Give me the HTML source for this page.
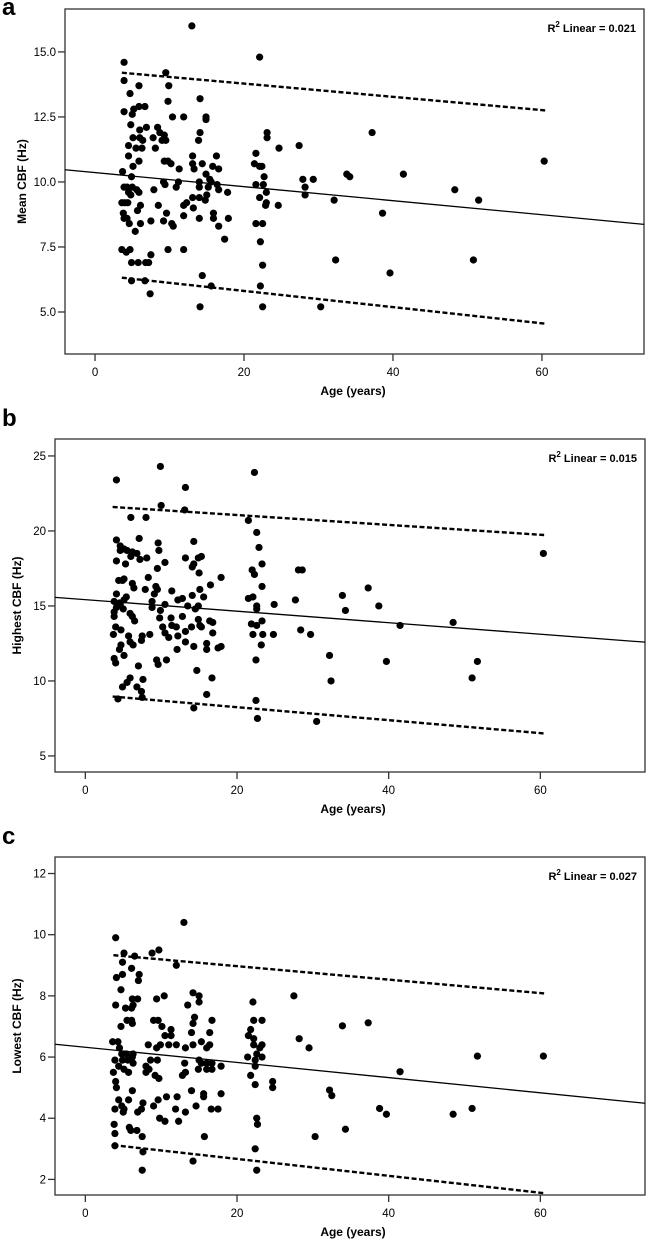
<!DOCTYPE html>
<html><head><meta charset="utf-8"><style>
html,body{margin:0;padding:0;background:#fff;}
svg{display:block;font-family:"Liberation Sans",Arial,sans-serif;}
</style></head><body>
<svg id="fig" width="647" height="1240" viewBox="0 0 647 1240"></svg>
<script>
// ---- Panel a: Mean CBF ----
const ageA=[13.0,3.9,22.1,3.9,9.5,4.7,5.9,9.9,3.9,5.0,5.2,5.9,6.7,9.8,10.4,11.9,14.1,14.9,14.9,4.8,5.1,6.0,6.9,6.0,6.4,4.5,5.5,6.3,8.4,8.7,7.8,9.3,9.0,9.5,8.1,14.1,13.9,4.5,5.9,5.1,4.9,3.7,9.3,9.8,10.2,11.3,13.1,13.1,13.3,14.4,15.8,16.3,16.6,21.6,21.4,22.1,22.4,22.7,23.1,23.1,24.7,27.4,27.9,29.3,28.2,28.2,37.2,60.3,33.8,34.2,41.4,48.3,51.5,32.1,38.6,32.3,50.8,39.6,30.3,3.9,4.3,5.0,5.6,5.9,4.5,4.8,3.6,4.0,4.4,6.1,5.7,3.8,3.9,4.3,4.6,6.1,5.4,7.5,7.9,8.5,9.2,9.4,9.2,9.6,10.3,10.5,10.9,11.2,11.9,11.9,12.3,13.1,13.2,14.0,14.0,14.0,14.0,14.8,14.9,15.0,15.2,15.4,15.6,15.9,15.9,16.4,16.6,16.6,17.8,17.9,17.4,21.6,22.1,22.6,23.0,23.0,22.9,24.6,21.6,22.5,22.2,22.5,22.2,22.5,14.1,14.4,15.6,3.6,4.2,4.7,4.9,4.9,5.8,6.8,7.2,7.5,6.7,7.4,9.8,11.9];
const cbfA=[16.0,14.6,14.8,13.9,14.2,13.4,13.7,13.7,12.7,12.6,12.8,12.9,12.9,13.1,12.5,12.5,13.2,12.5,12.4,12.2,11.7,12.0,12.1,11.7,11.6,11.4,11.3,11.3,12.1,11.9,11.7,11.8,11.6,11.6,11.3,11.9,11.6,11.0,10.8,10.6,10.2,10.4,10.8,10.8,10.7,10.5,11.0,10.7,10.5,10.7,10.6,11.0,10.5,11.1,10.7,10.6,10.6,10.2,11.9,11.7,11.3,11.4,10.1,10.1,9.8,9.5,11.9,10.8,10.3,10.2,10.3,9.7,9.3,9.3,8.8,7.0,7.0,6.5,5.2,9.8,9.8,9.8,9.7,9.6,9.6,9.5,9.2,9.2,9.2,9.1,8.9,8.8,8.6,8.6,8.4,8.4,8.1,8.5,9.7,9.1,10.0,9.9,8.5,8.8,8.4,8.3,9.8,10.0,9.1,8.7,9.2,9.4,9.0,9.4,10.0,9.8,8.6,9.3,10.3,9.5,9.8,10.1,10.0,8.8,8.6,9.9,9.7,8.3,9.6,8.6,7.8,9.9,9.4,9.9,9.6,9.2,9.1,9.1,8.4,8.4,7.7,6.8,6.0,5.2,5.2,6.4,6.0,7.4,7.3,7.4,6.9,6.2,6.9,6.9,6.9,7.2,6.2,5.7,7.4,7.4];
const fitA=[10.36,-0.027];      // intercept, slope
const upperA=[[3.6,14.2],[60.5,12.75]];
const lowerA=[[3.6,6.32],[60.5,4.55]];
const yTicksA=[5.0,7.5,10.0,12.5,15.0];

// ---- Panel b: Highest CBF ----
const ageB=[4.1,9.9,13.2,22.3,10.0,13.1,6.0,8.0,21.5,4.1,7.1,9.6,14.3,22.6,22.9,4.6,5.1,5.5,6.2,4.6,6.0,6.8,7.2,8.1,9.7,4.1,5.3,13.2,14.9,15.3,14.3,14.1,15.0,10.5,9.5,22.0,22.3,23.3,28.1,28.6,8.3,17.9,4.4,4.9,5.1,6.2,6.4,7.9,9.1,9.5,9.3,11.4,15.1,16.5,23.3,4.1,5.4,5.1,3.8,4.6,4.1,4.5,5.0,10.5,8.8,8.8,9.9,12.2,13.5,12.8,14.5,14.9,15.6,14.1,21.5,22.1,22.6,22.6,24.9,27.7,3.8,3.8,5.9,6.2,6.5,9.8,11.3,12.8,11.4,12.0,10.2,14.9,15.1,16.4,16.8,4.0,3.7,4.7,5.7,8.5,7.5,10.5,11.0,12.2,13.2,14.0,13.2,15.3,16.8,16.0,21.9,22.6,23.3,22.1,23.4,24.8,28.4,29.7,4.7,5.9,6.3,7.4,4.5,5.1,12.1,14.3,16.0,17.5,17.9,23.2,3.8,4.0,9.4,9.6,10.7,22.5,7.0,14.7,5.9,5.5,4.9,6.8,7.6,7.4,7.5,16.7,16.0,4.3,14.3,22.5,22.7,30.5,60.4,37.3,33.9,34.3,38.7,41.5,48.5,32.2,32.4,39.7,51.7,51.0];
const cbfB=[23.4,24.3,22.9,23.9,21.7,21.4,20.9,20.9,20.7,19.4,19.5,19.2,19.3,19.9,18.9,19.0,18.8,18.7,18.6,18.7,18.3,18.5,18.1,18.2,18.7,18.0,17.8,18.2,18.2,18.3,17.8,17.6,17.2,17.9,17.5,17.4,17.1,17.8,17.4,17.4,16.9,16.9,16.7,16.7,16.8,16.5,16.2,16.1,15.8,16.1,16.3,16.0,16.1,16.4,16.3,15.8,15.6,15.4,15.3,15.1,14.9,15.2,14.8,15.1,15.3,14.9,14.7,15.4,15.0,15.5,14.8,15.0,15.6,15.7,15.5,15.6,15.0,14.8,15.1,15.4,14.6,14.3,14.5,14.3,14.0,14.2,14.2,14.3,13.7,13.6,13.6,14.1,13.7,14.0,13.9,13.6,13.1,13.4,13.0,13.1,13.0,13.2,12.9,13.0,13.3,13.6,12.6,13.6,13.2,12.5,13.8,13.7,14.0,13.1,13.1,13.1,13.4,13.1,12.4,12.6,12.4,12.7,12.1,11.7,12.1,12.3,12.1,12.2,12.3,12.4,11.5,11.2,11.4,11.1,11.4,11.4,11.0,10.7,10.2,9.9,9.6,9.6,10.1,9.3,8.9,10.2,9.1,8.8,8.2,8.7,7.5,7.3,18.5,16.2,15.7,14.7,15.0,13.7,13.9,11.7,10.0,11.3,11.3,10.2];
const fitB=[15.42,-0.0384];
const upperB=[[3.6,21.6],[60.5,19.73]];
const lowerB=[[3.6,8.96],[60.5,6.5]];
const yTicksB=[5,10,15,20,25];

// ---- Panel c: Lowest CBF ----
const ageC=[13.0,4.0,9.7,8.8,5.1,6.5,4.1,4.9,6.1,4.9,7.1,7.0,12.0,4.7,4.0,9.4,10.4,6.2,6.9,5.3,6.1,6.3,14.2,15.0,15.0,13.5,22.1,27.5,4.7,5.5,6.1,6.2,9.0,9.6,10.1,11.3,14.4,14.2,16.7,14.0,16.4,10.5,11.3,22.2,23.3,21.8,21.5,22.2,28.2,29.5,3.6,4.3,4.5,8.3,9.4,9.9,11.0,12.0,13.2,14.2,15.3,16.0,16.4,22.2,23.0,23.3,22.6,23.3,21.4,22.4,4.8,5.4,6.3,3.9,4.9,5.6,4.4,5.1,5.7,6.3,6.2,3.7,8.0,8.4,8.0,8.6,9.5,9.2,9.7,13.1,13.2,12.8,15.0,15.3,14.9,16.0,16.7,16.0,16.7,17.9,21.8,22.4,22.4,24.7,24.7,4.0,4.1,4.4,6.2,5.7,4.8,5.1,3.9,5.0,6.9,7.4,7.6,9.0,9.6,10.7,12.1,11.9,13.2,14.0,14.6,15.6,15.6,16.6,17.5,17.9,9.8,10.5,12.3,22.6,22.7,3.8,3.9,5.8,6.0,6.8,7.5,15.7,30.3,3.9,7.6,22.4,14.2,7.5,22.6,33.9,37.3,51.7,60.4,41.5,32.2,32.5,38.8,39.7,48.5,51.0,34.3];
const cbfC=[10.4,9.9,9.5,9.4,9.4,9.3,8.6,9.1,8.9,8.7,8.7,8.5,9.0,8.2,7.7,7.9,8.0,7.9,7.9,7.6,7.6,7.7,8.1,8.0,7.8,7.7,7.8,8.0,7.0,7.2,7.2,7.1,7.2,7.2,7.0,6.9,7.3,7.1,7.2,6.8,6.8,6.7,6.7,7.2,7.2,6.9,6.7,6.6,6.6,6.3,6.5,6.5,6.3,6.4,6.3,6.4,6.4,6.4,6.3,6.4,6.5,6.3,6.4,6.4,6.3,6.4,6.1,6.0,6.0,5.9,6.1,6.1,6.1,5.9,5.9,5.9,5.7,5.6,5.5,5.8,6.0,5.5,5.7,5.6,5.5,5.9,5.9,5.4,5.3,5.8,5.5,5.4,5.9,5.8,5.6,5.8,5.8,5.6,5.6,5.7,5.4,5.7,5.1,5.2,5.0,5.2,5.0,4.6,4.9,4.6,4.4,4.3,4.3,4.2,4.2,4.3,4.5,4.4,4.6,4.7,4.7,4.3,4.2,4.9,4.4,4.8,4.7,4.3,4.3,4.8,4.0,3.9,3.9,4.0,3.8,3.8,3.5,3.7,3.6,3.6,3.4,3.4,3.4,3.1,2.9,3.0,2.6,2.3,2.3,7.02,7.12,6.03,6.03,5.52,4.92,4.74,4.32,4.13,4.13,4.32,3.64];
const fitC=[6.32,-0.0248];
const upperC=[[3.7,9.33],[60.5,8.08]];
const lowerC=[[3.7,3.12],[60.5,1.55]];
const yTicksC=[2,4,6,8,10,12];

const xTicks=[0,20,40,60];

const NS="http://www.w3.org/2000/svg";
const svg=document.getElementById('fig');
function mk(tag,attrs,parent){const e=document.createElementNS(NS,tag);for(const k in attrs)e.setAttribute(k,attrs[k]);(parent||svg).appendChild(e);return e;}

function panel(cfg){
  const {letter,left,right,top,bottom,xd,yd,ages,vals,fit,up,lo,yt,ytFmt,ytitle,r2,ytitleX}=cfg;
  const g=mk('g',{});
  
  
  const sx=v=>left+(v-xd[0])/(xd[1]-xd[0])*(right-left);
  const sy=v=>bottom-(v-yd[0])/(yd[1]-yd[0])*(bottom-top);
  const lab=mk('text',{x:2,y:Math.max(top-13,15),'font-size':24,'font-weight':'bold'},g);
  lab.textContent=letter;
  
  
  const box=mk('rect',{x:left,y:top,width:right-left,height:bottom-top,fill:'none',stroke:'#333','stroke-width':1.3},g);
  
  
  yt.forEach(v=>{
    const y=sy(v);
    mk('line',{x1:left-7,x2:left,y1:y,y2:y,stroke:'#333','stroke-width':1.3},g);
    const t=mk('text',{x:left-9,y:y+4,'font-size':11.5,'text-anchor':'end'},g);
    t.textContent=ytFmt(v);
    
    
  });
  xTicks.forEach(v=>{
    const x=sx(v);
    mk('line',{x1:x,x2:x,y1:bottom,y2:bottom+7,stroke:'#333','stroke-width':1.3},g);
    const t=mk('text',{x:x,y:bottom+22,'font-size':11.5,'text-anchor':'middle'},g);
    t.textContent=v;
    
    
  });
  const xt=mk('text',{x:353,y:bottom+41,'font-size':12,'font-weight':'bold','text-anchor':'middle'},g);
  xt.textContent='Age (years)';
  
  
  const cy=(top+bottom)/2;
  const ytl=mk('text',{x:ytitleX,y:cy,'font-size':12,'font-weight':'bold','text-anchor':'middle',transform:`rotate(-90 ${ytitleX} ${cy})`},g);
  ytl.textContent=ytitle;
  
  
  const r=mk('text',{x:right-8,y:top+23,'font-size':11,'font-weight':'bold','text-anchor':'end'},g);
  r.innerHTML='R<tspan dy="-5" font-size="8">2</tspan><tspan dy="5"> Linear = '+r2+'</tspan>';
  
  
  ages.forEach((a,i)=>{
    const c=mk('circle',{cx:sx(a),cy:sy(vals[i]),r:3.6,fill:'#000'},g);
    
    
  });
  const fl=mk('line',{x1:sx(xd[0]),y1:sy(fit[0]+fit[1]*xd[0]),x2:sx(xd[1]),y2:sy(fit[0]+fit[1]*xd[1]),stroke:'#000','stroke-width':1.3},g);
  
  
  [[up,'upper-prediction-line'],[lo,'lower-prediction-line']].forEach(([p,n])=>{
    const l=mk('line',{x1:sx(p[0][0]),y1:sy(p[0][1]),x2:sx(p[1][0]),y2:sy(p[1][1]),stroke:'#000','stroke-width':2.4,'stroke-dasharray':'5,2.5'},g);
    
    
  });
}
panel({letter:'a',left:65,right:644,top:9,bottom:354,xd:[-4.03,73.7],yd:[3.385,16.65],ages:ageA,vals:cbfA,fit:fitA,up:upperA,lo:lowerA,yt:yTicksA,ytFmt:v=>v.toFixed(1),ytitle:'Mean CBF (Hz)',r2:'0.021',ytitleX:26});
panel({letter:'b',left:55,right:645,top:439,bottom:772,xd:[-4.0,73.8],yd:[3.93,26.13],ages:ageB,vals:cbfB,fit:fitB,up:upperB,lo:lowerB,yt:yTicksB,ytFmt:v=>String(v),ytitle:'Highest CBF (Hz)',r2:'0.015',ytitleX:21});
panel({letter:'c',left:55,right:645,top:857,bottom:1195,xd:[-4.0,73.8],yd:[1.49,12.54],ages:ageC,vals:cbfC,fit:fitC,up:upperC,lo:lowerC,yt:yTicksC,ytFmt:v=>String(v),ytitle:'Lowest CBF (Hz)',r2:'0.027',ytitleX:21});
</script>
</body></html>
